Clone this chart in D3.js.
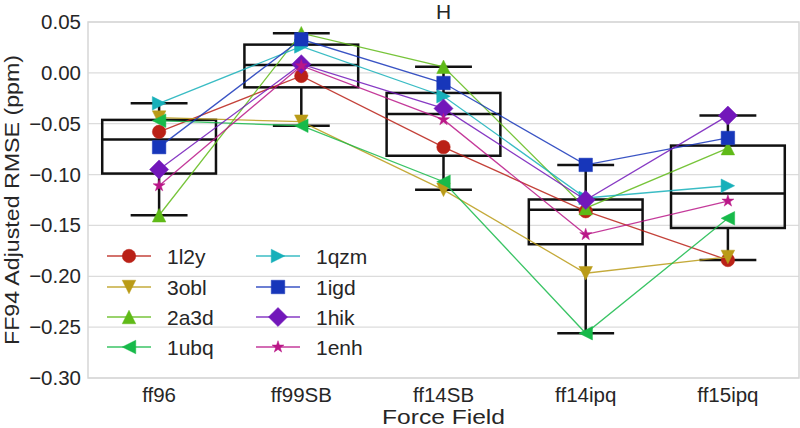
<!DOCTYPE html>
<html>
<head>
<meta charset="utf-8">
<script src="https://cdn.jsdelivr.net/npm/d3@7"></script>
<style>
  body { margin: 0; background: #fff; }
  svg { display: block; font-family: "Liberation Sans", Arial, sans-serif; }
</style>
</head>
<body>
<svg id="chart" width="800" height="428"></svg>
<script>
const categories = ["ff96", "ff99SB", "ff14SB", "ff14ipq", "ff15ipq"];
const seriesNames = ["1l2y", "3obl", "2a3d", "1ubq", "1qzm", "1igd", "1hik", "1enh"];
const v1l2y = [-0.058, -0.003, -0.073, -0.136, -0.184];
const v3obl = [-0.044, -0.048, -0.115, -0.197, -0.181];
const v2a3d = [-0.140, 0.039, 0.006, -0.133, -0.074];
const v1ubq = [-0.047, -0.052, -0.107, -0.256, -0.143];
const v1qzm = [-0.030, 0.026, -0.023, -0.123, -0.111];
const v1igd = [-0.073, 0.033, -0.010, -0.0905, -0.064];
const v1hik = [-0.095, 0.0085, -0.035, -0.125, -0.042];
const v1enh = [-0.111, 0.007, -0.046, -0.159, -0.126];
const yTicks = [0.05, 0.00, -0.05, -0.10, -0.15, -0.20, -0.25, -0.30];
const title = "H";
const xLabel = "Force Field";
const yLabel = "FF94 Adjusted RMSE (ppm)";

const seriesValues = [v1l2y, v3obl, v2a3d, v1ubq, v1qzm, v1igd, v1hik, v1enh];
const markerTypes = ["circle", "triDown", "triUp", "triLeft", "triRight", "square", "diamond", "star"];
const colors = seriesNames.map((d, i) => d3.hsl(3.6 + i * 45, 0.78, 0.41).formatHex());

const W = 800, H = 428;
const m = { left: 88, right: 1, top: 22, bottom: 50 };
const svg = d3.select("#chart");
const x = d3.scaleBand().domain(categories).range([m.left, W - m.right]).padding(0);
const y = d3.scaleLinear().domain([-0.30, 0.05]).range([H - m.bottom, m.top]);
const textColor = "#262626";

// grid
svg.append("g").selectAll("line").data(yTicks).join("line")
  .attr("x1", m.left).attr("x2", W - m.right)
  .attr("y1", d => y(d)).attr("y2", d => y(d))
  .attr("stroke", "#dcdcdc").attr("stroke-width", 1.2);
svg.append("rect").attr("x", m.left).attr("y", m.top)
  .attr("width", W - m.right - m.left).attr("height", H - m.bottom - m.top)
  .attr("fill", "none").attr("stroke", "#d6d6d6").attr("stroke-width", 1.5);

// axes
const yAxis = svg.append("g").attr("transform", `translate(${m.left},0)`)
  .call(d3.axisLeft(y).tickValues(yTicks).tickFormat(d3.format(".2f")).tickSize(0).tickPadding(7));
const xAxis = svg.append("g").attr("transform", `translate(0,${H - m.bottom})`)
  .call(d3.axisBottom(x).tickSize(0).tickPadding(9));
[yAxis, xAxis].forEach(a => {
  a.select(".domain").remove();
  a.selectAll("text").attr("font-size", 20.5).attr("fill", textColor).attr("font-family", "Liberation Sans, Arial, sans-serif");
});

// boxes
const bw = x.bandwidth() * 0.8;
const capW = bw * 0.5;
const boxG = svg.append("g");
categories.forEach((c, j) => {
  const vals = seriesValues.map(s => s[j]).sort(d3.ascending);
  const q1 = d3.quantile(vals, 0.25), med = d3.quantile(vals, 0.5), q3 = d3.quantile(vals, 0.75);
  const lo = d3.min(vals), hi = d3.max(vals);
  const cx = x(c) + x.bandwidth() / 2;
  const g = boxG.append("g").attr("stroke", "#111").attr("stroke-width", 2.5).attr("fill", "none");
  g.append("line").attr("x1", cx).attr("x2", cx).attr("y1", y(hi)).attr("y2", y(q3));
  g.append("line").attr("x1", cx).attr("x2", cx).attr("y1", y(q1)).attr("y2", y(lo));
  g.append("line").attr("x1", cx - capW / 2).attr("x2", cx + capW / 2).attr("y1", y(hi)).attr("y2", y(hi));
  g.append("line").attr("x1", cx - capW / 2).attr("x2", cx + capW / 2).attr("y1", y(lo)).attr("y2", y(lo));
  g.append("rect").attr("x", cx - bw / 2).attr("width", bw).attr("y", y(q3)).attr("height", y(q1) - y(q3));
  g.append("line").attr("x1", cx - bw / 2).attr("x2", cx + bw / 2).attr("y1", y(med)).attr("y2", y(med));
});

// marker paths
const S = 13.5;
function markerPath(type) {
  const h = S / 2;
  switch (type) {
    case "circle": return d3.symbol(d3.symbolCircle, Math.PI * h * h)();
    case "square": return `M${-h},${-h}H${h}V${h}H${-h}Z`;
    case "diamond": { const r = h * Math.SQRT2; return `M0,${-r}L${r},0L0,${r}L${-r},0Z`; }
    case "triUp": return `M0,${-h}L${h},${h}L${-h},${h}Z`;
    case "triDown": return `M0,${h}L${h},${-h}L${-h},${-h}Z`;
    case "triLeft": return `M${-h},0L${h},${-h}L${h},${h}Z`;
    case "triRight": return `M${h},0L${-h},${-h}L${-h},${h}Z`;
    case "star": {
      const R = 6.3, r = R * 0.381966; let p = "";
      for (let k = 0; k < 10; k++) {
        const a = -Math.PI / 2 + k * Math.PI / 5, rr = k % 2 ? r : R;
        p += (k ? "L" : "M") + (rr * Math.cos(a)).toFixed(2) + "," + (rr * Math.sin(a)).toFixed(2);
      }
      return p + "Z";
    }
  }
}

// series
const line = d3.line().x((d, j) => x(categories[j]) + x.bandwidth() / 2).y(d => y(d));
const serG = svg.append("g");
seriesValues.forEach((vals, i) => {
  const g = serG.append("g");
  g.append("path").attr("d", line(vals)).attr("fill", "none")
    .attr("stroke", colors[i]).attr("stroke-width", 1.3).attr("stroke-opacity", 0.85);
  g.selectAll("path.mk").data(vals).join("path").attr("class", "mk")
    .attr("d", markerPath(markerTypes[i]))
    .attr("transform", (d, j) => `translate(${x(categories[j]) + x.bandwidth() / 2},${y(d)})`)
    .attr("fill", colors[i]).attr("stroke", colors[i]).attr("stroke-opacity", 0.5).attr("stroke-width", 1);
});

// legend
const legCols = [129, 278], legRows = [256, 287, 317, 347];
const leg = svg.append("g");
seriesNames.forEach((n, i) => {
  const col = Math.floor(i / 4), row = i % 4;
  const mx = legCols[col], my = legRows[row];
  const g = leg.append("g");
  g.append("line").attr("x1", mx - 22).attr("x2", mx + 22).attr("y1", my).attr("y2", my)
    .attr("stroke", colors[i]).attr("stroke-width", 1.3).attr("stroke-opacity", 0.85);
  g.append("path").attr("d", markerPath(markerTypes[i])).attr("transform", `translate(${mx},${my})`)
    .attr("fill", colors[i]).attr("stroke", colors[i]).attr("stroke-opacity", 0.5).attr("stroke-width", 1);
  g.append("text").attr("x", mx + 38).attr("y", my).attr("dy", "0.36em")
    .attr("font-size", 21).attr("fill", textColor).text(n);
});

// labels
svg.append("text").attr("x", (m.left + W - m.right) / 2).attr("y", 19).attr("text-anchor", "middle")
  .attr("font-size", 21).attr("fill", textColor).text(title);
svg.append("text").attr("x", (m.left + W - m.right) / 2).attr("y", 423.5).attr("text-anchor", "middle")
  .attr("font-size", 21).attr("textLength", 123).attr("lengthAdjust", "spacingAndGlyphs")
  .attr("fill", textColor).text(xLabel);
svg.append("text").attr("transform", `translate(18.8,${(m.top + H - m.bottom) / 2}) rotate(-90)`)
  .attr("text-anchor", "middle").attr("font-size", 20.5)
  .attr("textLength", 290).attr("lengthAdjust", "spacingAndGlyphs")
  .attr("fill", textColor).text(yLabel);
</script>
</body>
</html>
